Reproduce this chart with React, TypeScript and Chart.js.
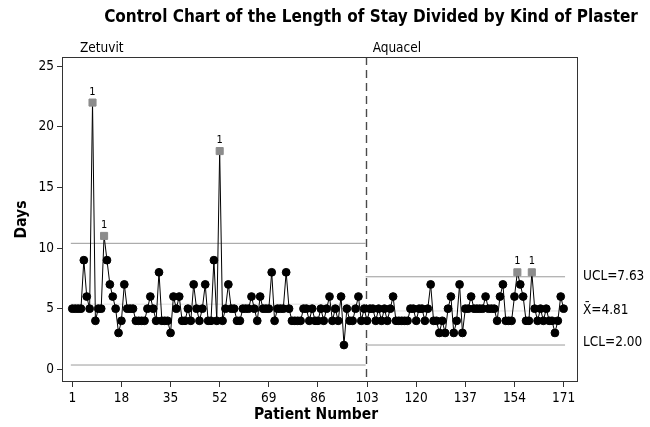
import { useEffect, useRef } from 'react';
import { Chart, registerables } from 'chart.js';

Chart.register(...registerables);

// Length of stay (days) for patients 1..171
const days = [
  5, 5, 5, 5, 9, 6, 5, 22, 4, 5,
  5, 11, 9, 7, 6, 5, 3, 4, 7, 5,
  5, 5, 4, 4, 4, 4, 5, 6, 5, 4,
  8, 4, 4, 4, 3, 6, 5, 6, 4, 4,
  5, 4, 7, 5, 4, 5, 7, 4, 4, 9,
  4, 18, 4, 5, 7, 5, 5, 4, 4, 5,
  5, 5, 6, 5, 4, 6, 5, 5, 5, 8,
  4, 5, 5, 5, 8, 5, 4, 4, 4, 4,
  5, 5, 4, 5, 4, 4, 5, 4, 5, 6,
  4, 5, 4, 6, 2, 5, 4, 4, 5, 6,
  4, 5,
  4, 5, 5, 4, 5, 4, 5, 4,
  5, 6, 4, 4, 4, 4, 4, 5, 5, 4,
  5, 5, 4, 5, 7, 4, 4, 3, 4, 3,
  5, 6, 3, 4, 7, 3, 5, 5, 6, 5,
  5, 5, 5, 6, 5, 5, 5, 4, 6, 7,
  4, 4, 4, 6, 8, 7, 6, 4, 4, 8,
  5, 4, 5, 4, 5, 4, 4, 3, 4, 6, 5,
];

const stageNames = ['Zetuvit', 'Aquacel'];
const stageFrom = [0.5, 102.5];
const stageTo = [102.5, 171.5];
const uclValues = [10.39, 7.63];
const meanValues = [5.37, 4.81];
const lclValues = [0.35, 2.0];
const lastStageLabels = ['UCL=7.63', 'X\u0304=4.81', 'LCL=2.00'];

const xTickValues = [1, 18, 35, 52, 69, 86, 103, 120, 137, 154, 171];
const yTickValues = [0, 5, 10, 15, 20, 25];

const FONT = '"DejaVu Sans Condensed", "DejaVu Sans", sans-serif';

function stageOf(x: number) {
  for (let s = 0; s < stageTo.length; s++) if (x <= stageTo[s]) return s;
  return stageTo.length - 1;
}
function isOut(i: number) {
  const s = stageOf(i + 1);
  const v = days[i];
  return v > uclValues[s] || v < lclValues[s];
}

export default function App() {
  const ref = useRef<HTMLCanvasElement | null>(null);
  useEffect(() => {
    document.body.style.margin = '0';
    const canvas = ref.current!;
    const limitSets: any[] = [];
    stageNames.forEach((_, s) => {
      const lines: [number, string][] = [
        [uclValues[s], '#9a9a9a'],
        [meanValues[s], '#dedede'],
        [lclValues[s], '#9a9a9a'],
      ];
      lines.forEach(([v, c]) => {
        limitSets.push({
          type: 'line',
          data: [
            { x: stageFrom[s], y: v },
            { x: stageTo[s], y: v },
          ],
          borderColor: c,
          borderWidth: 1,
          pointRadius: 0,
          fill: false,
        });
      });
    });

    const overlay = {
      id: 'overlay',
      beforeDatasetsDraw(chart: any) {
        const { ctx, chartArea, scales } = chart;
        ctx.save();
        ctx.strokeStyle = '#4a4a4a';
        ctx.lineWidth = 1.4;
        ctx.setLineDash([8, 5]);
        for (let s = 1; s < stageFrom.length; s++) {
          const x = Math.round(scales.x.getPixelForValue(stageFrom[s])) + 0.5;
          ctx.beginPath();
          ctx.moveTo(x, chartArea.top);
          ctx.lineTo(x, chartArea.bottom);
          ctx.stroke();
        }
        ctx.restore();
      },
      afterDraw(chart: any) {
        const { ctx, chartArea, scales } = chart;
        const xs = scales.x;
        const ys = scales.y;
        ctx.save();
        // frame
        ctx.strokeStyle = '#333';
        ctx.lineWidth = 1;
        ctx.strokeRect(
          chartArea.left + 0.5,
          chartArea.top + 0.5,
          chartArea.right - chartArea.left - 1,
          chartArea.bottom - chartArea.top - 1
        );
        ctx.fillStyle = '#000';
        // title
        ctx.font = `bold 17px ${FONT}`;
        ctx.textAlign = 'center';
        ctx.textBaseline = 'middle';
        ctx.fillText('Control Chart of the Length of Stay Divided by Kind of Plaster', 371, 18);
        // stage names
        ctx.font = `13.5px ${FONT}`;
        ctx.textAlign = 'left';
        ctx.textBaseline = 'alphabetic';
        stageNames.forEach((n, s) => {
          const x = s === 0 ? chartArea.left + 18 : xs.getPixelForValue(stageFrom[s]) + 7;
          ctx.fillText(n, x, 52);
        });
        // axis titles
        ctx.font = `bold 15.5px ${FONT}`;
        ctx.textAlign = 'center';
        ctx.textBaseline = 'middle';
        ctx.fillText('Patient Number', (chartArea.left + chartArea.right) / 2 - 4, 415);
        ctx.save();
        ctx.translate(22, (chartArea.top + chartArea.bottom) / 2);
        ctx.rotate(-Math.PI / 2);
        ctx.fillText('Days', 0, 0);
        ctx.restore();
        // right-side limit labels
        const last = stageNames.length - 1;
        const vals = [uclValues[last], meanValues[last], lclValues[last]];
        ctx.font = `13.5px ${FONT}`;
        ctx.textAlign = 'left';
        ctx.textBaseline = 'middle';
        vals.forEach((v, k) => {
          const y = ys.getPixelForValue(v) + (k === 2 ? -3 : 0);
          ctx.fillText(lastStageLabels[k], chartArea.right + 5, y);
        });
        // test-failure labels
        ctx.font = `11px ${FONT}`;
        ctx.textAlign = 'center';
        ctx.textBaseline = 'alphabetic';
        days.forEach((v, i) => {
          if (isOut(i)) {
            ctx.fillText('1', xs.getPixelForValue(i + 1), ys.getPixelForValue(v) - 8);
          }
        });
        ctx.restore();
      },
    };

    const chart = new Chart(canvas, {
      type: 'line',
      data: {
        datasets: [
          {
            data: days.map((v, i) => ({ x: i + 1, y: v })),
            borderColor: '#000',
            borderWidth: 1,
            pointStyle: (c: any) => (isOut(c.dataIndex) ? 'rect' : 'circle'),
            pointRadius: (c: any) => (isOut(c.dataIndex) ? 5 : 3.9),
            pointBackgroundColor: (c: any) => (isOut(c.dataIndex) ? '#8c8c8c' : '#000'),
            pointBorderColor: (c: any) => (isOut(c.dataIndex) ? '#8c8c8c' : '#000'),
            pointBorderWidth: 1,
            fill: false,
          } as any,
          ...limitSets,
        ],
      },
      options: {
        responsive: false,
        animation: false,
        devicePixelRatio: 1,
        layout: { padding: { top: 57, right: 72, left: 0, bottom: 0 } },
        plugins: { legend: { display: false }, tooltip: { enabled: false }, title: { display: false } },
        scales: {
          x: {
            type: 'linear',
            min: -2.56,
            max: 175.98,
            afterFit: (s: any) => {
              s.height = 45;
            },
            afterBuildTicks: (s: any) => {
              s.ticks = xTickValues.map((v) => ({ value: v }));
            },
            grid: { drawOnChartArea: false, drawTicks: true, tickLength: 5, color: '#333' },
            border: { display: false },
            ticks: {
              autoSkip: false,
              maxRotation: 0,
              padding: 3,
              color: '#000',
              font: { family: FONT, size: 13.5 },
              callback: (v: any) => String(v),
            },
          },
          y: {
            type: 'linear',
            min: -1.05,
            max: 25.76,
            afterFit: (s: any) => {
              s.width = 62;
            },
            afterBuildTicks: (s: any) => {
              s.ticks = yTickValues.map((v) => ({ value: v }));
            },
            grid: { drawOnChartArea: false, drawTicks: true, tickLength: 5, color: '#333' },
            border: { display: false },
            ticks: {
              padding: 3,
              color: '#000',
              font: { family: FONT, size: 13.5 },
              callback: (v: any) => String(v),
            },
          },
        },
      },
      plugins: [overlay],
    } as any);
    return () => chart.destroy();
  }, []);
  return <canvas ref={ref} width={650} height={427} style={{ display: 'block', width: 650, height: 427 }} />;
}
